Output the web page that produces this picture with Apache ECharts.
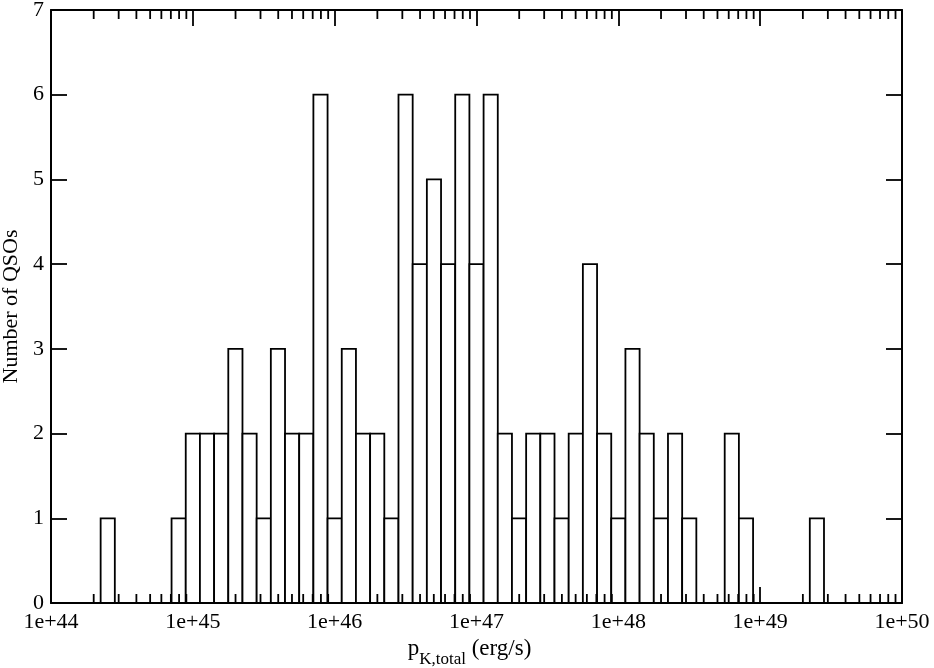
<!DOCTYPE html>
<html><head><meta charset="utf-8">
<script src="https://cdn.jsdelivr.net/npm/echarts@6/dist/echarts.min.js"></script>
<style>html,body{margin:0;padding:0;background:#fff}#c{width:934px;height:668px}</style>
</head><body><div id="c"></div>
<script>
// histogram bins: centres in log10(p_K,total / erg s^-1), bin width 0.1 dex
const binCenters = [44.4,44.9,45.0,45.1,45.2,45.3,45.4,45.5,45.6,45.7,45.8,45.9,46.0,46.1,46.2,46.3,46.4,46.5,46.6,46.7,46.8,46.9,47.0,47.1,47.2,47.3,47.4,47.5,47.6,47.7,47.8,47.9,48.0,48.1,48.2,48.3,48.4,48.5,48.8,48.9,49.4];
const counts = [1,1,2,2,2,3,2,1,3,2,2,6,1,3,2,2,1,6,4,5,4,6,4,6,2,1,2,2,1,2,4,2,1,3,2,1,2,1,2,1,1];
const binWidth = 0.1;
const xMin = 44, xMax = 50;
const yMin = 0, yMax = 7;
const xTickLabels = ['1e+44','1e+45','1e+46','1e+47','1e+48','1e+49','1e+50'];
const yTickLabels = ['0','1','2','3','4','5','6','7'];
const minorMultipliers = [2,3,4,5,6,7,8,9];

const FONT = '"Liberation Serif", "Times New Roman", serif';
const minorTicks = [];
for (let d = xMin; d < xMax; d++) for (const k of minorMultipliers) minorTicks.push([d + Math.log10(k)]);

const chart = echarts.init(document.getElementById('c'), null, {renderer: 'canvas'});
const axisCommon = {
  axisLine: {show: true, onZero: false, lineStyle: {color: '#000', width: 2}},
  splitLine: {show: false}
};
const tickStyle = {color: '#000', width: 1.8};
chart.setOption({
  animation: false,
  backgroundColor: '#fff',
  grid: {left: 51, right: 32, top: 10, bottom: 65, containLabel: false, outerBoundsMode: 'none'},
  xAxis: [
    Object.assign({
      type: 'value', min: xMin, max: xMax, interval: 1, position: 'bottom',
      axisTick: {show: true, inside: true, length: 16, lineStyle: tickStyle},
      axisLabel: {show: true, margin: 8, fontFamily: FONT, fontSize: 22, color: '#000',
        formatter: v => xTickLabels[Math.round(v - xMin)]},
      name: '{p|p}{s|K,total}{n| (erg/s)}',
      nameLocation: 'middle', nameGap: 34,
      nameTextStyle: {fontFamily: FONT, color: '#000', padding: [0, 14, 0, 0], rich: {
        p: {fontFamily: FONT, fontSize: 23, color: '#000', verticalAlign: 'top', lineHeight: 30},
        s: {fontFamily: FONT, fontSize: 17, color: '#000', verticalAlign: 'bottom', lineHeight: 16},
        n: {fontFamily: FONT, fontSize: 23, color: '#000', verticalAlign: 'top', lineHeight: 30}
      }}
    }, axisCommon),
    Object.assign({
      type: 'value', min: xMin, max: xMax, interval: 1, position: 'top',
      axisTick: {show: true, inside: true, length: 16, lineStyle: tickStyle},
      axisLabel: {show: false}
    }, axisCommon)
  ],
  yAxis: [
    Object.assign({
      type: 'value', min: yMin, max: yMax, interval: 1, position: 'left',
      axisTick: {show: true, inside: true, length: 16, lineStyle: tickStyle},
      axisLabel: {show: true, margin: 7, fontFamily: FONT, fontSize: 22, color: '#000',
        formatter: v => yTickLabels[Math.round(v - yMin)]},
      name: 'Number of QSOs', nameLocation: 'middle', nameGap: 28,
      nameTextStyle: {fontFamily: FONT, fontSize: 22, color: '#000'}
    }, axisCommon),
    Object.assign({
      type: 'value', min: yMin, max: yMax, interval: 1, position: 'right',
      axisTick: {show: true, inside: true, length: 16, lineStyle: tickStyle},
      axisLabel: {show: false}
    }, axisCommon)
  ],
  series: [
    {
      type: 'custom', xAxisIndex: 0, yAxisIndex: 0, z: 1,
      data: binCenters.map((c, i) => [c, counts[i]]),
      renderItem: (params, api) => {
        const c = api.value(0), n = api.value(1);
        const tl = api.coord([c - binWidth / 2, n]);
        const br = api.coord([c + binWidth / 2, 0]);
        return {type: 'rect', shape: {x: tl[0], y: tl[1], width: br[0] - tl[0], height: br[1] - tl[1]},
          style: {fill: '#fff', stroke: '#000', lineWidth: 1.8}};
      }
    },
    {
      type: 'custom', xAxisIndex: 0, yAxisIndex: 0, z: 3, silent: true, clip: false,
      data: minorTicks,
      renderItem: (params, api) => {
        const v = api.value(0);
        const b = api.coord([v, yMin]);
        const t = api.coord([v, yMax]);
        return {type: 'group', children: [
          {type: 'line', shape: {x1: b[0], y1: b[1], x2: b[0], y2: b[1] - 9}, style: {stroke: '#000', lineWidth: 1.8}},
          {type: 'line', shape: {x1: t[0], y1: t[1], x2: t[0], y2: t[1] + 9}, style: {stroke: '#000', lineWidth: 1.8}}
        ]};
      }
    }
  ]
});
</script>
</body></html>
